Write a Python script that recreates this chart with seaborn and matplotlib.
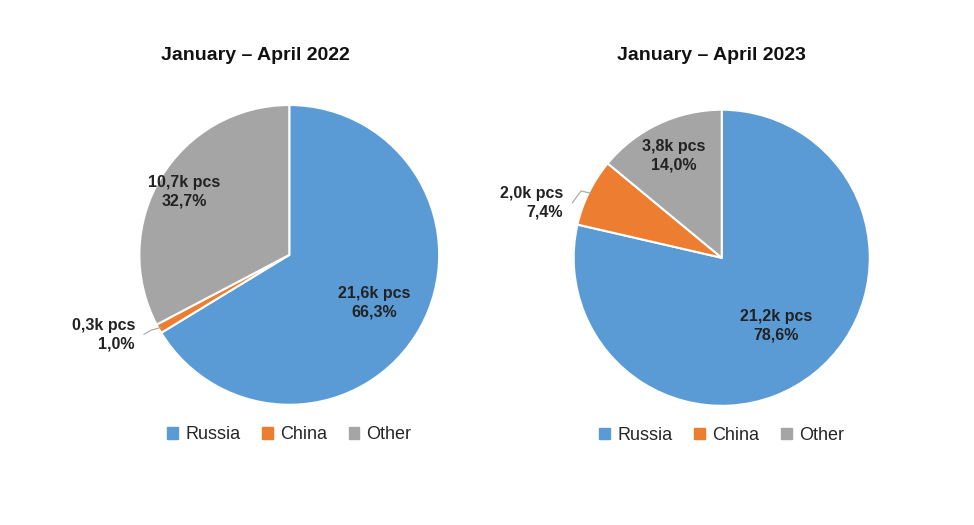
import numpy as np
import matplotlib
matplotlib.use("Agg")
import matplotlib.pyplot as plt
import seaborn as sns
from matplotlib.patches import Patch

sns.set_theme(style="white")
plt.rcParams['font.family'] = ['Liberation Sans', 'DejaVu Sans']

categories = ["Russia", "China", "Other"]
titles = ["January \u2013 April 2022", "January \u2013 April 2023"]
shares = [[66.3, 1.0, 32.7], [78.6, 7.4, 14.0]]
pcs = [["21,6k pcs", "0,3k pcs", "10,7k pcs"], ["21,2k pcs", "2,0k pcs", "3,8k pcs"]]
pct_labels = [["66,3%", "1,0%", "32,7%"], ["78,6%", "7,4%", "14,0%"]]
colors = ["#5B9BD5", "#ED7D31", "#A5A5A5"]

fig = plt.figure(figsize=(9.74, 5.25), dpi=100)
boxes = [[0.143, 0.229, 0.308, 0.571], [0.589, 0.227, 0.304, 0.564]]
title_x = [0.262, 0.73]
inside_r = [[0.65, None, 0.82], [0.59, None, 0.76]]
outside_pos = [(-1.03, -0.53), (-1.07, 0.37)]

for i in range(2):
    ax = fig.add_axes(boxes[i])
    wedges, _ = ax.pie(shares[i], colors=colors, startangle=90, counterclock=False,
                       wedgeprops=dict(edgecolor="white", linewidth=1.5))
    ax.set_xlim(-1, 1)
    ax.set_ylim(-1, 1)
    ax.set_aspect("equal")
    for j, w in enumerate(wedges):
        ang = np.deg2rad((w.theta1 + w.theta2) / 2)
        txt = f"{pcs[i][j]}\n{pct_labels[i][j]}"
        if inside_r[i][j] is not None:
            r = inside_r[i][j]
            ax.text(r * np.cos(ang), r * np.sin(ang), txt, ha="center", va="center",
                    fontsize=11.5, fontweight="bold", color="#222222", linespacing=1.3)
        else:
            ex, ey = np.cos(ang), np.sin(ang)
            tx, ty = outside_pos[i]
            ax.plot([ex * 0.98, ex * 1.06, tx + 0.06], [ey * 0.98, ey * 1.02, ty], color="#A5A5A5",
                    lw=0.8, clip_on=False)
            ax.text(tx, ty, txt, ha="right", va="center", fontsize=11.5, fontweight="bold",
                    color="#222222", linespacing=1.3)
    fig.text(title_x[i], 1 - 55 / 525, titles[i], ha="center", va="center",
             fontsize=14, fontweight="bold", color="#111111")
    handles = [Patch(color=c, label=l) for c, l in zip(colors, categories)]
    ax.legend(handles=handles, loc="center", bbox_to_anchor=(0.5, -0.1), ncol=3,
              frameon=False, fontsize=13, handlelength=0.6, handleheight=0.6,
              columnspacing=1.2, handletextpad=0.4)

fig.savefig("out.png", dpi=100, facecolor="white")
